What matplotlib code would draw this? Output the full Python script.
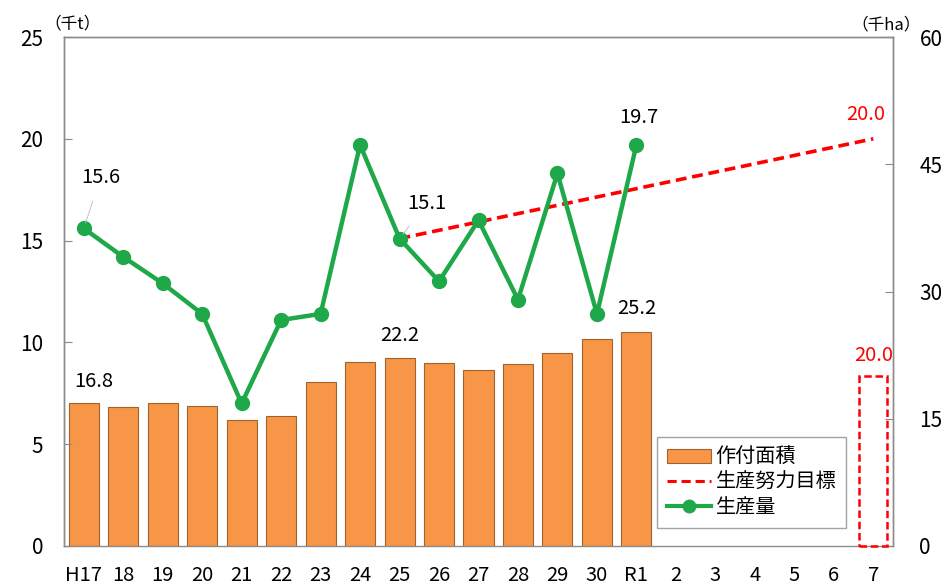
import matplotlib.pyplot as plt
from matplotlib.lines import Line2D
from matplotlib.patches import Patch

plt.rcParams['font.family'] = ['Noto Sans CJK JP', 'DejaVu Sans']

# x-Kategorien (Jahre)
years = ['H17', '18', '19', '20', '21', '22', '23', '24', '25', '26',
         '27', '28', '29', '30', 'R1', '2', '3', '4', '5', '6', '7']

# 作付面積 (千ha), H17..R1
area = [16.8, 16.4, 16.8, 16.5, 14.8, 15.3, 19.3, 21.7, 22.2, 21.6,
        20.7, 21.4, 22.7, 24.4, 25.2]
# 生産量 (千t), H17..R1
prod = [15.6, 14.2, 12.9, 11.4, 7.0, 11.1, 11.4, 19.7, 15.1, 13.0,
        16.0, 12.1, 18.3, 11.4, 19.7]
# 生産努力目標
target_years = ['25', '7']
target_prod = [15.1, 20.0]
target_area = 20.0

ORANGE = '#F79646'
GREEN = '#1FA84A'
RED = '#FF0000'
GREY = '#8C8C8C'

fig = plt.figure(figsize=(9.41, 5.86), dpi=100)
ax = fig.add_axes([64 / 941, 40 / 586, (893 - 64) / 941, (546 - 37) / 586])
ax2 = ax.twinx()

x_all = list(range(len(years)))
x_area = x_all[:len(area)]
x_target = [years.index(y) for y in target_years]

# --- Balken (rechte Achse) ---
ax2.bar(x_area, area, width=0.76, color=ORANGE, edgecolor='#A0622E', linewidth=0.8)
ax2.bar([x_target[-1]], [target_area], width=0.72, fill=False,
        edgecolor=RED, linewidth=1.8, linestyle=(0, (3, 1.5)), clip_on=False, zorder=5)
ax2.set_ylim(0, 60)
ax2.set_yticks([0, 15, 30, 45, 60])

# --- Linien (linke Achse) ---
ax.set_zorder(ax2.get_zorder() + 1)
ax.patch.set_visible(False)
ax.plot(x_target, target_prod, color=RED, linewidth=2.6, linestyle=(0, (3, 1.6)))
ax.plot(x_area, prod, color=GREEN, linewidth=3.2, marker='o', markersize=10)
ax.set_ylim(0, 25)
ax.set_yticks([0, 5, 10, 15, 20, 25])
ax.set_xlim(-0.5, len(years) - 0.5)
ax.set_xticks(x_all)
ax.set_xticklabels(years)

for a in (ax, ax2):
    for s in a.spines.values():
        s.set_color(GREY)
        s.set_linewidth(1.0)
    a.tick_params(axis='y', direction='in', length=6, color=GREY, labelsize=15)
# untere Achse nur auf ax2, damit der rote Rahmen sichtbar bleibt
ax.spines['bottom'].set_visible(False)
ax2.spines['bottom'].set_zorder(1)
ax.tick_params(axis='y', pad=15)
ax2.tick_params(axis='y', pad=19)
ax.tick_params(axis='x', length=0, labelsize=14.5, pad=14)

# Einheiten
fig.text(72 / 941, 1 - 24 / 586, '（千t）', fontsize=12, ha='center', va='center')
fig.text(886 / 941, 1 - 25 / 586, '（千ha）', fontsize=12, ha='center', va='center')

# Datenbeschriftungen
lbl = dict(fontsize=14.5, ha='center', va='center')
leader = dict(arrowstyle='-', color='#BBBBBB', lw=0.6, shrinkA=8, shrinkB=4)
ax.annotate(f'{prod[0]:.1f}', xy=(x_area[0], prod[0]), xytext=(0.43, 18.1),
            arrowprops=leader, **lbl)
ax.annotate(f'{prod[8]:.1f}', xy=(x_area[8], prod[8]), xytext=(8.68, 16.8),
            arrowprops=leader, **lbl)
ax.annotate(f'{prod[14]:.1f}', xy=(x_area[14], prod[14]), xytext=(14.05, 21.07), **lbl)
ax.annotate(f'{target_prod[-1]:.1f}', xy=(x_target[-1], target_prod[-1]), xytext=(19.82, 21.2),
            color=RED, arrowprops=leader, **lbl)
ax2.text(0.25, area[0] + 2.6, f'{area[0]:.1f}', **lbl)
ax2.text(8.0, area[8] + 2.6, f'{area[8]:.1f}', **lbl)
ax2.text(14.0, area[14] + 2.8, f'{area[14]:.1f}', **lbl)
ax2.text(x_target[-1], target_area + 2.5, f'{target_area:.1f}', color=RED, **lbl)

handles = [
    Patch(facecolor=ORANGE, edgecolor='#A0622E', linewidth=0.8),
    Line2D([], [], color=RED, linewidth=2.2, linestyle=(0, (3, 1.6))),
    Line2D([], [], color=GREEN, linewidth=3, marker='o', markersize=9),
]
leg = fig.legend(handles, ['作付面積', '生産努力目標', '生産量'],
                 loc='upper left', bbox_to_anchor=(657 / 941, 1 - 437 / 586),
                 fontsize=14.5, frameon=True, fancybox=False, edgecolor=GREY,
                 handlelength=2.2, handletextpad=0.2, labelspacing=0.2,
                 borderpad=0.5, borderaxespad=0)
leg.get_frame().set_linewidth(1.0)

fig.savefig('out.png', dpi=100)
